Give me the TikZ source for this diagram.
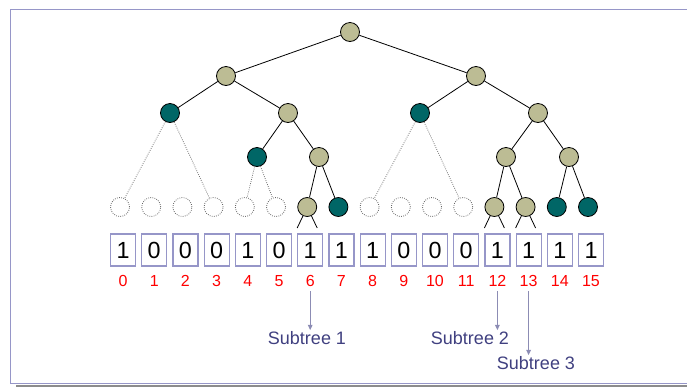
\documentclass[tikz,border=0pt]{standalone}
\usepackage{fontspec}
\setmainfont{Liberation Sans}
\usetikzlibrary{arrows.meta}
\definecolor{khaki}{RGB}{188,188,148}
\definecolor{teal}{RGB}{0,102,102}
\definecolor{frame}{RGB}{150,150,200}
\definecolor{arrowc}{RGB}{140,140,180}
\definecolor{labelc}{RGB}{64,64,128}
\begin{document}
\begin{tikzpicture}[x=0.75pt,y=0.75pt,yscale=-1,xscale=1,
  full/.style={circle,draw=black,line width=0.6pt,minimum size=14.25pt,inner sep=0pt,fill=khaki},
  cut/.style={full,fill=teal},
  empty/.style={circle,draw=black!60,densely dotted,line width=0.6pt,minimum size=14.25pt,inner sep=0pt},
  bit/.style={draw=frame,line width=0.9pt,minimum width=18.75pt,minimum height=24pt,inner sep=0pt,font=\fontsize{17.5}{20}\selectfont},
  idx/.style={text=red,inner sep=1pt,font=\fontsize{12}{14}\selectfont},
  note/.style={text=labelc,inner sep=0.75pt,font=\fontsize{13.5}{16}\selectfont},
  tree/.style={line width=0.6pt},
  lost/.style={black!55,densely dotted,line width=0.6pt},
  pick/.style={arrowc,line width=0.8pt,-{Triangle[length=4pt,width=3.5pt]}}]
\useasboundingbox (0,0) rectangle (687,387);
%Frame
\draw[black!45,line width=1.5pt] (16,386.2) -- (687,386.2) ;
\draw[frame,line width=1pt] (687,9.5) -- (10.5,9.5) -- (10.5,383.3) -- (687,383.3) ;
%Shape: Circle (inner nodes)
\node[full] (r) at (350,32) {};
\node[full] (a) at (226,76) {};
\node[full] (b) at (476,76) {};
\node[cut] (aa) at (170,113) {};
\node[full] (ab) at (288,113) {};
\node[cut] (ba) at (420,113) {};
\node[full] (bb) at (538,113) {};
\node[cut] (aba) at (257,157) {};
\node[full] (abb) at (319,157) {};
\node[full] (bba) at (506,157) {};
\node[full] (bbb) at (569,157) {};
%Shape: Circle (leaves)
\node[empty] (lf0) at (120,207) {};
\node[empty] (lf1) at (151.2,207) {};
\node[empty] (lf2) at (182.4,207) {};
\node[empty] (lf3) at (213.6,207) {};
\node[empty] (lf4) at (244.8,207) {};
\node[empty] (lf5) at (276,207) {};
\node[full] (lf6) at (307.2,207) {};
\node[cut] (lf7) at (338.4,207) {};
\node[empty] (lf8) at (369.6,207) {};
\node[empty] (lf9) at (400.8,207) {};
\node[empty] (lf10) at (432,207) {};
\node[empty] (lf11) at (463.2,207) {};
\node[full] (lf12) at (494.4,207) {};
\node[full] (lf13) at (525.6,207) {};
\node[cut] (lf14) at (556.8,207) {};
\node[cut] (lf15) at (588,207) {};
%Straight Lines
\draw[tree] (r) -- (a) ;
\draw[tree] (r) -- (b) ;
\draw[tree] (a) -- (aa) ;
\draw[tree] (a) -- (ab) ;
\draw[tree] (b) -- (ba) ;
\draw[tree] (b) -- (bb) ;
\draw[tree] (ab) -- (aba) ;
\draw[tree] (ab) -- (abb) ;
\draw[tree] (bb) -- (bba) ;
\draw[tree] (bb) -- (bbb) ;
\draw[tree] (abb) -- (lf6) ;
\draw[tree] (abb) -- (lf7) ;
\draw[tree] (bba) -- (lf12) ;
\draw[tree] (bba) -- (lf13) ;
\draw[tree] (bbb) -- (lf14) ;
\draw[tree] (bbb) -- (lf15) ;
%Dotted Lines
\draw[lost] (aa) -- (lf0) ;
\draw[lost] (aa) -- (lf3) ;
\draw[lost] (aba) -- (lf4) ;
\draw[lost] (aba) -- (lf5) ;
\draw[lost] (ba) -- (lf8) ;
\draw[lost] (ba) -- (lf11) ;
%Stubs below the kept leaves
\draw[tree] (lf6) -- +(-10,21) ;
\draw[tree] (lf6) -- +(10,21) ;
\draw[tree] (lf12) -- +(-10,21) ;
\draw[tree] (lf12) -- +(10,21) ;
\draw[tree] (lf13) -- +(-10,21) ;
\draw[tree] (lf13) -- +(10,21) ;
% Text Node (bit boxes)
\node[bit] (b0) at (123,250) {1};
\node[bit] (b1) at (154.2,250) {0};
\node[bit] (b2) at (185.4,250) {0};
\node[bit] (b3) at (216.6,250) {0};
\node[bit] (b4) at (247.8,250) {1};
\node[bit] (b5) at (279,250) {0};
\node[bit] (b6) at (310.2,250) {1};
\node[bit] (b7) at (341.4,250) {1};
\node[bit] (b8) at (372.6,250) {1};
\node[bit] (b9) at (403.8,250) {0};
\node[bit] (b10) at (435,250) {0};
\node[bit] (b11) at (466.2,250) {0};
\node[bit] (b12) at (497.4,250) {1};
\node[bit] (b13) at (528.6,250) {1};
\node[bit] (b14) at (559.8,250) {1};
\node[bit] (b15) at (591,250) {1};
% Text Node (indices)
\node[idx] (i0) at (123,281) {0};
\node[idx] (i1) at (154.2,281) {1};
\node[idx] (i2) at (185.4,281) {2};
\node[idx] (i3) at (216.6,281) {3};
\node[idx] (i4) at (247.8,281) {4};
\node[idx] (i5) at (279,281) {5};
\node[idx] (i6) at (310.2,281) {6};
\node[idx] (i7) at (341.4,281) {7};
\node[idx] (i8) at (372.6,281) {8};
\node[idx] (i9) at (403.8,281) {9};
\node[idx] (i10) at (435,281) {10};
\node[idx] (i11) at (466.2,281) {11};
\node[idx] (i12) at (497.4,281) {12};
\node[idx] (i13) at (528.6,281) {13};
\node[idx] (i14) at (559.8,281) {14};
\node[idx] (i15) at (591,281) {15};
% Text Node (labels)
\node[note] (s1) at (307,338) {Subtree 1};
\node[note] (s2) at (470,338) {Subtree 2};
\node[note] (s3) at (536,363) {Subtree 3};
%Arrows
\draw[pick] (i6.south) ++(0,3) -- (i6.south |- s1.north) ;
\draw[pick] (i12.south) ++(0,3) -- (i12.south |- s2.north) ;
\draw[pick] (i13.south) ++(0,3) -- (i13.south |- s3.north) ;
\end{tikzpicture}
\end{document}
